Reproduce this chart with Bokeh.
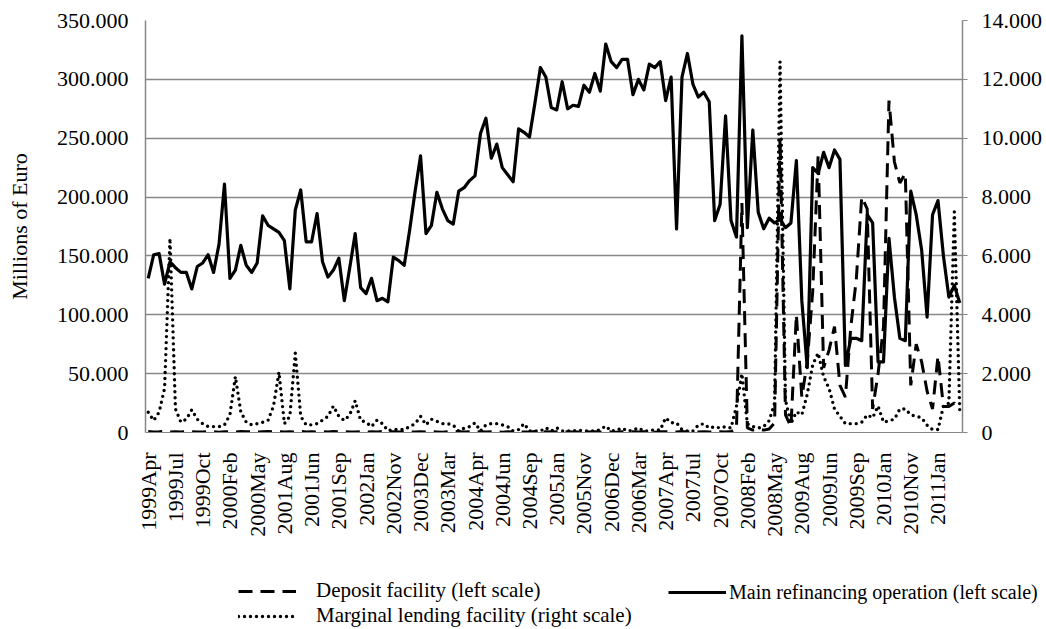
from math import pi
from bokeh.plotting import figure
from bokeh.layouts import column, row
from bokeh.models import Range1d, LinearAxis, FixedTicker, Legend, LegendItem
from bokeh.embed import file_html
from bokeh.resources import INLINE

# ---- data (billions of euro; marginal lending in thousands of millions) ----
period_index = list(range(150))

x_tick_labels = ["1999Apr", "1999Jul", "1999Oct", "2000Feb", "2000May", "2001Aug",
                 "2001Jun", "2001Sep", "2002Jan", "2002Nov", "2003Dec", "2003Mar",
                 "2004Apr", "2004Jun", "2004Sep", "2005Jan", "2005Nov", "2006Dec",
                 "2006Mar", "2007Apr", "2007Jul", "2007Oct", "2008Feb", "2008May",
                 "2009Aug", "2009Jun", "2009Sep", "2010Jan", "2010Nov", "2011Jan"]
x_tick_every = 5

left_ticks = [0, 50, 100, 150, 200, 250, 300, 350]
left_tick_labels = ["0", "50.000", "100.000", "150.000", "200.000", "250.000", "300.000", "350.000"]
right_ticks = [0, 2, 4, 6, 8, 10, 12, 14]
right_tick_labels = ["0", "2.000", "4.000", "6.000", "8.000", "10.000", "12.000", "14.000"]

main_refinancing = [
    131, 151, 152, 126, 145, 140, 136, 136, 122, 141,
    144, 151, 136, 160, 211, 131, 138, 159, 142, 136,
    144, 184, 176, 173, 170, 163, 122, 189, 206, 162,
    162, 186, 145, 132, 138, 148, 112, 140, 169, 123,
    118, 131, 112, 114, 111, 149, 146, 142, 172, 205,
    235, 169, 176, 204, 190, 180, 177, 205, 208, 214,
    218, 254, 267, 233, 245, 225, 219, 213, 258, 255,
    251, 280, 310, 302, 276, 274, 298, 275, 278, 277,
    295, 289, 305, 290, 330, 315, 310, 317, 317, 287,
    300, 291, 313, 310, 315, 282, 302, 173, 302, 322,
    296, 285, 289, 281, 180, 194, 269, 180, 166, 337,
    174, 257, 187, 173, 182, 178, 181, 174, 178, 231,
    112, 55, 225, 220, 238, 225, 240, 232, 57, 80,
    80, 78, 185, 178, 60, 60, 165, 115, 80, 78,
    205, 185, 155, 98, 185, 197, 150, 115, 125, 110]

deposit_facility = [
    0.8, 0.5, 0.6, 1.0, 0.4, 0.7, 0.5, 0.9, 0.6, 0.4,
    0.5, 0.8, 0.6, 0.3, 0.7, 0.5, 0.4, 0.9, 0.6, 0.5,
    0.4, 0.6, 0.8, 0.5, 0.7, 0.4, 0.6, 0.5, 0.9, 0.4,
    0.6, 0.5, 0.7, 0.4, 0.8, 0.5, 0.6, 0.4, 0.5, 0.7,
    0.3, 0.6, 0.5, 0.8, 0.4, 0.6, 0.5, 0.7, 0.4, 0.5,
    0.6, 0.4, 0.7, 0.5, 0.3, 0.6, 0.5, 0.8, 0.4, 0.6,
    0.5, 0.7, 0.4, 0.6, 0.5, 0.3, 0.7, 0.5, 0.6, 0.4,
    0.5, 0.8, 0.4, 0.6, 0.5, 0.7, 0.3, 0.6, 0.5, 0.4,
    0.7, 0.5, 0.6, 0.4, 0.8, 0.5, 0.3, 0.6, 0.5, 0.7,
    0.4, 0.6, 0.5, 0.3, 0.7, 0.6, 0.5, 0.4, 0.8, 0.5,
    0.6, 0.4, 0.7, 0.5, 0.3, 0.6, 0.5, 0.8, 3, 195,
    4, 2, 3, 2, 3, 8, 250, 15, 5, 100,
    30, 60, 120, 236, 55, 70, 90, 40, 30, 90,
    130, 200, 190, 20, 50, 90, 282, 230, 212, 220,
    40, 75, 60, 35, 20, 65, 22, 22, 25, 20]

marginal_lending = [
    0.69, 0.41, 0.69, 1.5, 6.6, 0.8, 0.35, 0.45, 0.77, 0.45,
    0.3, 0.2, 0.2, 0.2, 0.26, 0.6, 1.9, 0.7, 0.35, 0.26,
    0.3, 0.35, 0.41, 0.9, 2.05, 0.3, 0.55, 2.7, 0.55, 0.26,
    0.26, 0.3, 0.42, 0.55, 0.9, 0.55, 0.41, 0.6, 1.08, 0.41,
    0.35, 0.2, 0.42, 0.3, 0.06, 0.1, 0.1, 0.1, 0.2, 0.3,
    0.55, 0.26, 0.45, 0.38, 0.3, 0.3, 0.25, 0.05, 0.15, 0.2,
    0.33, 0.05, 0.26, 0.3, 0.3, 0.26, 0.2, 0.05, 0.1, 0.3,
    0.05, 0.05, 0.05, 0.16, 0.05, 0.16, 0.05, 0.05, 0.05, 0.08,
    0.05, 0.05, 0.05, 0.1, 0.22, 0.05, 0.08, 0.15, 0.05, 0.08,
    0.16, 0.05, 0.05, 0.1, 0.08, 0.5, 0.33, 0.33, 0.1, 0.05,
    0.05, 0.25, 0.3, 0.15, 0.2, 0.15, 0.2, 0.15, 0.9, 2.0,
    0.3, 0.2, 0.15, 0.2, 0.4, 1.0, 12.6, 1.1, 0.3, 0.7,
    0.6, 1.3, 2.3, 2.7, 1.9, 1.5, 0.8, 0.55, 0.3, 0.3,
    0.3, 0.35, 0.6, 0.5, 0.9, 0.35, 0.4, 0.45, 0.8, 0.8,
    0.6, 0.55, 0.5, 0.25, 0.1, 0.1, 0.9, 1.0, 7.5, 0.7]

series_names = ["Deposit facility (left scale)",
                "Main refinancing operation (left scale)",
                "Marginal lending facility (right scale)"]

# ---- styling ----
FONT = "Liberation Serif"
GRID = "#888888"
DEP_STYLE = dict(line_color="black", line_width=3, line_dash="14 8")
MRO_STYLE = dict(line_color="black", line_width=3.2, line_join="round")
MLF_STYLE = dict(line_color="black", line_width=3.4, line_dash="0 6", line_cap="round")

W = 1046
p = figure(width=W, height=572, output_backend="svg", toolbar_location=None,
           x_range=Range1d(-0.5, len(period_index) - 0.5), y_range=Range1d(0, 350),
           min_border_left=145, min_border_right=84, min_border_top=20,
           min_border_bottom=140)
p.extra_y_ranges = {"right": Range1d(0, 14)}
p.outline_line_color = None

p.line(period_index, deposit_facility, **DEP_STYLE)
p.line(period_index, main_refinancing, **MRO_STYLE)
p.line(period_index, marginal_lending, y_range_name="right", **MLF_STYLE)

# x axis
xa = p.xaxis[0]
xa.ticker = FixedTicker(ticks=[i * x_tick_every for i in range(len(x_tick_labels))])
xa.major_label_overrides = {i * x_tick_every: lab for i, lab in enumerate(x_tick_labels)}
xa.major_label_orientation = pi / 2
xa.major_tick_out = 0
xa.major_tick_in = 0
xa.minor_tick_line_color = None
xa.axis_line_color = GRID
xa.major_label_standoff = 20
xa.major_label_text_font = FONT
xa.major_label_text_font_size = "22px"
xa.major_label_text_color = "black"

# left axis
ya = p.yaxis[0]
ya.ticker = FixedTicker(ticks=left_ticks)
ya.major_label_overrides = dict(zip(left_ticks, left_tick_labels))
ya.major_tick_out = 0
ya.major_tick_in = 0
ya.minor_tick_line_color = None
ya.axis_line_color = GRID
ya.axis_line_width = 1.5
ya.major_label_standoff = 17
ya.major_label_text_font = FONT
ya.major_label_text_font_size = "22px"
ya.major_label_text_color = "black"
ya.axis_label = "Millions of Euro"
ya.axis_label_text_font = FONT
ya.axis_label_text_font_size = "22px"
ya.axis_label_text_font_style = "normal"
ya.axis_label_text_color = "black"
ya.axis_label_standoff = 22

# right axis
ra = LinearAxis(y_range_name="right", ticker=FixedTicker(ticks=right_ticks))
ra.major_label_overrides = dict(zip(right_ticks, right_tick_labels))
ra.major_tick_out = 5
ra.major_tick_in = 0
ra.major_tick_line_color = GRID
ra.minor_tick_line_color = None
ra.axis_line_color = GRID
ra.axis_line_width = 1.5
ra.major_label_standoff = 14
ra.major_label_text_font = FONT
ra.major_label_text_font_size = "22px"
ra.major_label_text_color = "black"
p.add_layout(ra, "right")

p.xgrid.visible = False
p.ygrid.ticker = FixedTicker(ticks=left_ticks)
p.ygrid.grid_line_color = GRID
p.ygrid.grid_line_width = 1.5

# ---- legend strip: two small figures whose series lie outside their visible range ----
def legend_strip(width, entries, loc, standoff, size):
    f = figure(width=width, height=57, output_backend="svg", toolbar_location=None,
               x_range=Range1d(-30, -20), y_range=Range1d(0, 1), min_border=0,
               x_axis_location=None, y_axis_location=None)
    f.outline_line_color = None
    f.xgrid.visible = False
    f.ygrid.visible = False
    f.extra_y_ranges = {"right": Range1d(0, 14)}
    items = []
    for name, values, style, yname in entries:
        r = f.line(period_index, values, y_range_name=yname, **style)
        items.append(LegendItem(label=name, renderers=[r]))
    f.add_layout(Legend(items=items, orientation="vertical", location=loc,
                        glyph_width=58, glyph_height=24, label_height=24,
                        label_standoff=standoff, spacing=0, padding=0, margin=0,
                        border_line_color=None, background_fill_alpha=0,
                        label_text_font=FONT, label_text_font_size=size,
                        label_text_color="black"))
    return f

lg_left = legend_strip(660, [(series_names[0], deposit_facility, DEP_STYLE, "default"),
                             (series_names[2], marginal_lending, MLF_STYLE, "right")],
                       (238, 1), 20, "21px")
lg_right = legend_strip(W - 660, [(series_names[1], main_refinancing, MRO_STYLE, "default")],
                        (8, 25), 3, "20px")

layout = column(p, row(lg_left, lg_right, spacing=0), spacing=0)
open("out.html", "w").write(file_html(layout, INLINE))
